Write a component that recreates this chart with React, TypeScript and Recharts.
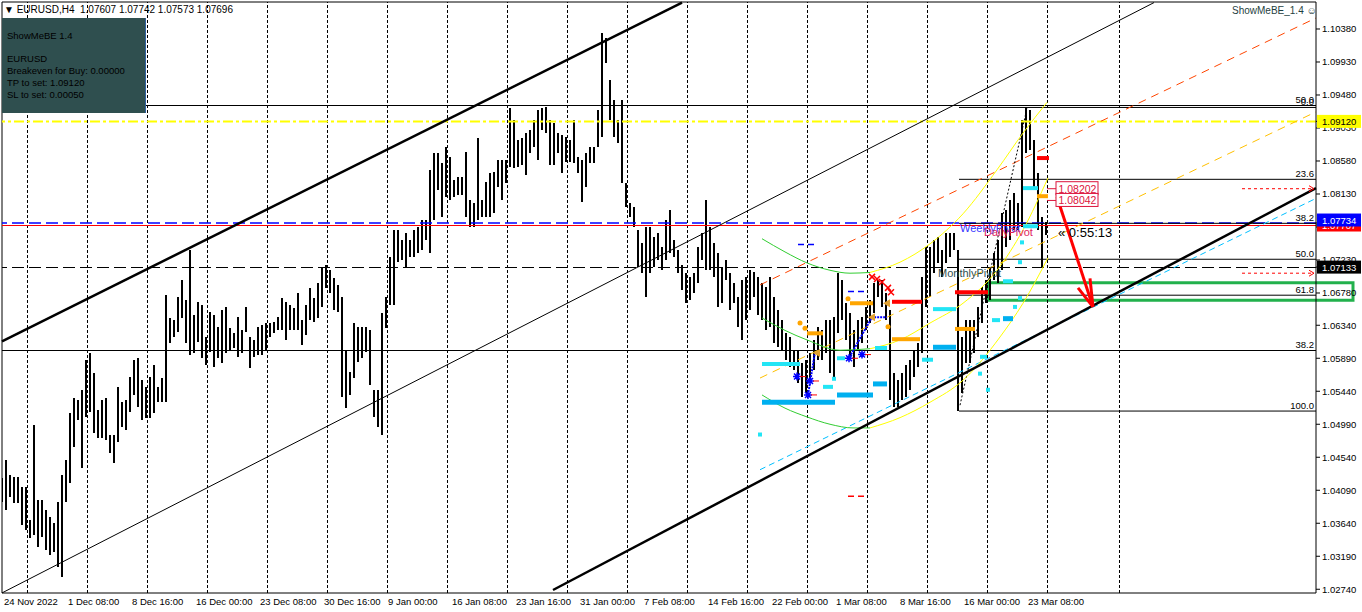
import React from "react"
import {
  ComposedChart, Bar, Line, XAxis, YAxis,
  ReferenceLine, ReferenceArea, ReferenceDot,
} from "recharts"

const FONT = '"Liberation Sans", Arial, sans-serif'
const W = 1362
const H = 612

// H4 bars, read in pairs (one entry = 2 bars): [high, low]
const priceHL: [number, number][] = [
  [1.0426, 1.0393], [1.0450, 1.0382], [1.0430, 1.0400], [1.0427, 1.0392], [1.0427, 1.0392],
  [1.0413, 1.0362], [1.0413, 1.0355], [1.0368, 1.0344], [1.0498, 1.0348], [1.0396, 1.0332],
  [1.0396, 1.0345], [1.0382, 1.0328], [1.0372, 1.0321], [1.0364, 1.0325], [1.0393, 1.0304],
  [1.0430, 1.0291], [1.0450, 1.0393], [1.0514, 1.0419], [1.0535, 1.0468], [1.0532, 1.0505],
  [1.0546, 1.0439], [1.0587, 1.0509], [1.0596, 1.0516], [1.0569, 1.0487], [1.0518, 1.0480],
  [1.0532, 1.0480], [1.0535, 1.0478], [1.0484, 1.0460], [1.0484, 1.0446], [1.0550, 1.0475],
  [1.0529, 1.0495], [1.0532, 1.0491], [1.0563, 1.0516], [1.0587, 1.0539], [1.0589, 1.0523],
  [1.0559, 1.0505], [1.0550, 1.0508], [1.0563, 1.0508], [1.0580, 1.0514], [1.0550, 1.0529],
  [1.0562, 1.0529], [1.0675, 1.0529], [1.0644, 1.0610], [1.0641, 1.0618], [1.0673, 1.0625],
  [1.0696, 1.0644], [1.0668, 1.0610], [1.0737, 1.0593], [1.0648, 1.0596], [1.0666, 1.0611],
  [1.0662, 1.0589], [1.0618, 1.0580], [1.0652, 1.0598], [1.0648, 1.0577], [1.0632, 1.0589],
  [1.0655, 1.0583], [1.0659, 1.0596], [1.0630, 1.0600], [1.0623, 1.0603], [1.0645, 1.0591],
  [1.0628, 1.0596], [1.0659, 1.0625], [1.0618, 1.0576], [1.0614, 1.0591], [1.0632, 1.0593],
  [1.0634, 1.0593], [1.0637, 1.0600], [1.0637, 1.0618], [1.0638, 1.0623], [1.0645, 1.0628],
  [1.0671, 1.0628], [1.0666, 1.0614], [1.0662, 1.0628], [1.0658, 1.0628], [1.0678, 1.0628],
  [1.0641, 1.0607], [1.0662, 1.0621], [1.0685, 1.0641], [1.0671, 1.0638], [1.0692, 1.0644],
  [1.0713, 1.0659], [1.0716, 1.0685], [1.0709, 1.0678], [1.0698, 1.0655], [1.0689, 1.0652],
  [1.0673, 1.0536], [1.0600, 1.0521], [1.0570, 1.0539], [1.0637, 1.0562], [1.0632, 1.0584],
  [1.0632, 1.0589], [1.0632, 1.0598], [1.0628, 1.0553], [1.0546, 1.0509], [1.0546, 1.0495],
  [1.0651, 1.0484], [1.0673, 1.0630], [1.0727, 1.0662], [1.0764, 1.0662], [1.0764, 1.0720],
  [1.0750, 1.0723], [1.0760, 1.0713], [1.0750, 1.0727], [1.0764, 1.0727], [1.0768, 1.0733],
  [1.0778, 1.0737], [1.0778, 1.0750], [1.0846, 1.0733], [1.0869, 1.0778], [1.0869, 1.0818],
  [1.0855, 1.0782], [1.0877, 1.0809], [1.0863, 1.0805], [1.0832, 1.0809], [1.0836, 1.0812],
  [1.0836, 1.0812], [1.0870, 1.0782], [1.0805, 1.0768], [1.0801, 1.0768], [1.0889, 1.0778],
  [1.0805, 1.0782], [1.0829, 1.0782], [1.0842, 1.0782], [1.0843, 1.0787], [1.0859, 1.0823],
  [1.0859, 1.0805], [1.0859, 1.0828], [1.0930, 1.0850], [1.0914, 1.0848], [1.0887, 1.0850],
  [1.0889, 1.0853], [1.0896, 1.0839], [1.0900, 1.0869], [1.0914, 1.0877], [1.0928, 1.0859],
  [1.0930, 1.0900], [1.0932, 1.0896], [1.0914, 1.0853], [1.0910, 1.0853], [1.0896, 1.0869],
  [1.0893, 1.0842], [1.0891, 1.0857], [1.0887, 1.0857], [1.0914, 1.0855], [1.0863, 1.0842],
  [1.0859, 1.0802], [1.0869, 1.0823], [1.0877, 1.0855], [1.0877, 1.0855], [1.0928, 1.0877],
  [1.1033, 1.0891], [1.1026, 1.0992], [1.0968, 1.0914], [1.0941, 1.0891], [1.0914, 1.0883],
  [1.0941, 1.0828], [1.0828, 1.0795], [1.0801, 1.0782], [1.0795, 1.0768], [1.0764, 1.0713],
  [1.0746, 1.0705], [1.0768, 1.0673], [1.0768, 1.0705], [1.0754, 1.0713], [1.0760, 1.0723],
  [1.0741, 1.0709], [1.0778, 1.0723], [1.0791, 1.0733], [1.0750, 1.0727], [1.0737, 1.0705],
  [1.0716, 1.0682], [1.0705, 1.0664], [1.0700, 1.0668], [1.0705, 1.0678], [1.0741, 1.0692],
  [1.0760, 1.0723], [1.0805, 1.0709], [1.0768, 1.0709], [1.0746, 1.0700], [1.0733, 1.0659],
  [1.0713, 1.0664], [1.0723, 1.0696], [1.0705, 1.0655], [1.0692, 1.0664], [1.0673, 1.0632],
  [1.0696, 1.0614], [1.0700, 1.0641], [1.0709, 1.0655], [1.0707, 1.0673], [1.0700, 1.0648],
  [1.0692, 1.0641], [1.0686, 1.0628], [1.0700, 1.0632], [1.0673, 1.0610], [1.0655, 1.0604],
  [1.0641, 1.0600], [1.0623, 1.0587], [1.0618, 1.0577], [1.0600, 1.0573], [1.0600, 1.0555],
  [1.0583, 1.0536], [1.0587, 1.0542], [1.0596, 1.0559], [1.0614, 1.0573], [1.0632, 1.0587],
  [1.0628, 1.0587], [1.0641, 1.0596], [1.0641, 1.0569], [1.0645, 1.0563], [1.0705, 1.0623],
  [1.0696, 1.0641], [1.0664, 1.0614], [1.0651, 1.0587], [1.0628, 1.0577], [1.0641, 1.0600],
  [1.0645, 1.0610], [1.0659, 1.0628], [1.0668, 1.0637], [1.0692, 1.0651], [1.0696, 1.0673],
  [1.0696, 1.0659], [1.0678, 1.0641], [1.0655, 1.0532], [1.0569, 1.0523], [1.0559, 1.0523],
  [1.0569, 1.0532], [1.0580, 1.0536], [1.0587, 1.0546], [1.0600, 1.0563], [1.0610, 1.0577],
  [1.0700, 1.0596], [1.0741, 1.0659], [1.0741, 1.0673], [1.0750, 1.0705], [1.0754, 1.0719],
  [1.0737, 1.0700], [1.0760, 1.0719], [1.0760, 1.0727], [1.0760, 1.0737], [1.0737, 1.0517],
  [1.0618, 1.0542], [1.0641, 1.0583], [1.0641, 1.0583], [1.0641, 1.0596], [1.0659, 1.0618],
  [1.0686, 1.0637], [1.0696, 1.0664], [1.0713, 1.0668], [1.0733, 1.0696], [1.0750, 1.0692],
  [1.0787, 1.0709], [1.0791, 1.0741], [1.0805, 1.0750], [1.0814, 1.0764], [1.0801, 1.0764],
  [1.0914, 1.0768], [1.0932, 1.0869], [1.0928, 1.0873], [1.0887, 1.0823], [1.0842, 1.0764],
  [1.0782, 1.0713], [1.07742, 1.07573],
]

// right price scale
const priceTicks = [1.1038, 1.0993, 1.0948, 1.0903, 1.0858, 1.0813, 1.0768, 1.0723, 1.0678,
  1.0634, 1.0589, 1.0544, 1.0499, 1.0454, 1.0409, 1.0364, 1.0319, 1.0274]
const tpPrice = 1.0912
const dailyPivot = 1.07707
const weeklyPivot = 1.07734
const monthlyPivot = 1.07133

// time scale (bar index, 1 bar = 4h)
const dateBars = [1, 33, 65, 97, 129, 161, 193, 225, 257, 289, 321, 353, 385, 417, 449, 481, 513]
const dateLabels = ["24 Nov 2022", "1 Dec 08:00", "8 Dec 16:00", "16 Dec 00:00", "23 Dec 08:00",
  "30 Dec 16:00", "9 Jan 00:00", "16 Jan 08:00", "23 Jan 16:00", "31 Jan 00:00", "7 Feb 08:00",
  "14 Feb 16:00", "22 Feb 00:00", "1 Mar 08:00", "8 Mar 16:00", "16 Mar 00:00", "23 Mar 08:00"]
const gridBars = [13.5, 43.5, 73.5, 103.5, 133.5, 163.5, 193.5, 223.5, 253.5, 283.5, 313.5,
  343.5, 373.5, 403.5, 433.5, 463.5, 493.5, 523.5, 559.5]

// trend lines [bar, price] -> [bar, price]
const chanUpper: [number, number][] = [[1, 1.0612], [341, 1.1074]]
const chanLower: [number, number][] = [[1, 1.0269], [577, 1.1074]]
const supportLine: [number, number][] = [[276.5, 1.0273], [658, 1.0821]]
const skyTrend: [number, number][] = [[380, 1.0437], [658, 1.0807]]
const redTrend: [number, number][] = [[380, 1.0689], [658, 1.1053]]
const goldTrend: [number, number][] = [[380, 1.0562], [658, 1.0925]]
const fibDiag: [number, number][] = [[480, 1.0525], [513.5, 1.0930]]

// fibo retracement (from bar 479.5)
const fibPrices = [1.0931, 1.0833, 1.0773, 1.0724, 1.0675, 1.0517]
const fibLabels = [
  { t: "50.0", p: 1.0934 }, { t: "0.0", p: 1.0931 }, { t: "23.6", p: 1.0833 }, { t: "38.2", p: 1.0773 },
  { t: "50.0", p: 1.0724 }, { t: "61.8", p: 1.0675 }, { t: "38.2", p: 1.0600 }, { t: "100.0", p: 1.0517 },
]
const fullLevels = [1.0934, 1.0600]

// indicator segments [fromBar, toBar, price]
const aquaSegs = [[381, 400, 1.0581], [411.5, 416.5, 1.0550], [418.5, 422.5, 1.0589], [437.5, 443.5, 1.0603],
  [461, 466.5, 1.0587], [466.5, 478, 1.0656], [490, 493.5, 1.0591], [496, 500, 1.0641],
  [501.5, 506.5, 1.0694], [511.5, 519, 1.0821], [511.5, 519, 1.0769]]
const skySegs = [[381, 417.5, 1.0529], [418.5, 436.5, 1.0539], [436.5, 443.5, 1.0554], [466.5, 478, 1.0604], [501.5, 506.5, 1.0643]]
const orangeSegs = [[403.5, 411.5, 1.0623], [425, 436.5, 1.0664], [446, 460, 1.0615], [477.5, 487.5, 1.0629], [518.5, 524, 1.0810]]
const redSegs = [[446, 461, 1.0666], [477.5, 494, 1.0679], [518.5, 524.5, 1.0862]]
const blueDashSegs = [[399, 408.5, 1.0744], [424, 433.5, 1.0680]]
const redDashSegs = [[424, 433.5, 1.0401]]
const orderLines = [1.08202, 1.0705]

const blueStars = [[398.5, 1.0564], [405, 1.0558], [404, 1.0539], [424.5, 1.0589], [431, 1.0594]]
const orangeTris = [[408.5, 1.0596], [436, 1.0645], [443.5, 1.0664]]
const orangeDots = [[400, 1.0637], [402.5, 1.0630], [424, 1.0670], [444, 1.0632]]
const redMarks = [[436, 1.0700], [438.5, 1.0697], [441, 1.0693], [444, 1.0685], [445.5, 1.0679]]
const aquaDots = [[380, 1.0485], [417, 1.0561], [494, 1.0546], [507.5, 1.0659], [510, 1.0720], [511, 1.0747], [510, 1.0671], [490, 1.0568]]
const blueZig1 = [[404, 1.0539], [407.5, 1.0597]]
const blueZig2 = [[424, 1.0587], [436, 1.0645], [443.5, 1.0645]]

// regression-like curves
const green1 = [[381, 1.0752], [392.5, 1.0734], [403.5, 1.0719], [415, 1.0709], [425, 1.0705], [435, 1.0706]]
const yellow1 = [[435, 1.0706], [450, 1.0720], [465, 1.0745], [481.5, 1.0786], [498.5, 1.0846], [511.5, 1.0896], [523.5, 1.0938]]
const green2 = [[381, 1.0644], [392.5, 1.0627], [403.5, 1.0614], [420, 1.0600], [435, 1.0602]]
const yellow2 = [[435, 1.0602], [450, 1.0614], [465, 1.0637], [481.5, 1.0664], [498.5, 1.0709], [511.5, 1.0764], [524, 1.0835]]
const green3 = [[381, 1.0539], [392.5, 1.0521], [403.5, 1.0509], [415, 1.0499], [426.5, 1.0494], [435, 1.0494]]
const yellow3 = [[435, 1.0494], [450, 1.0508], [465, 1.0529], [481.5, 1.0559], [500, 1.0618], [511.5, 1.0664], [524, 1.0726]]

// projected move
const arrowShaft: [number, number][] = [[528.5, 1.0809], [546.5, 1.0659]]
const arrowWings: [number, number][] = [[539, 1.0685], [545, 1.0698]]
const zoneBox = { x1: 494, x2: 676.5, top: 1.0692, bottom: 1.0668 }
const tagPrices = [1.08202, 1.08042]

const bars = priceHL.map(([h, l], i) => ({ x: 2 * i + 1, hl: [l, h] }))
const pts = (a: number[][]) => a.map(([x, p]) => ({ x, p }))

const DateTick = (props: any) => {
  const { x, y, payload } = props
  const i = dateBars.indexOf(payload.value)
  return (
    <text x={x + 2} y={y + 10} fontSize={9.5} fontFamily={FONT} fill="#000">{dateLabels[i]}</text>
  )
}

const markStyle: Record<string, [string, string]> = {
  [tpPrice]: ["#ffff00", "#000"],
  [dailyPivot]: ["#ff0000", "#fff"],
  [weeklyPivot]: ["#0000ff", "#fff"],
  [monthlyPivot]: ["#000000", "#fff"],
}

const PriceTick = (props: any) => {
  const { x, y, payload } = props
  const v = payload.value
  const st = markStyle[v]
  if (st) {
    const up = v === weeklyPivot ? 3 : 0
    return (
      <g>
        <rect x={x - 5} y={y - 6.5 - up} width={44} height={13} fill={st[0]} />
        <text x={x} y={y + 3.5 - up} fontSize={9.5} fontFamily={FONT} fill={st[1]}>{v.toFixed(5)}</text>
      </g>
    )
  }
  return <text x={x} y={y + 3.5} fontSize={9.5} fontFamily={FONT} fill="#000">{v.toFixed(5)}</text>
}

// one OHLC pair drawn as a crisp black stroke
const PriceBar = (p: any) => {
  const cx = Math.round(p.x + p.width / 2)
  return <rect x={cx - 1} y={p.y} width={2} height={Math.max(p.height, 1)} fill="#000" shapeRendering="crispEdges" />
}

const seg = (a: [number, number][], stroke: string, width: number, dash?: string, key?: string) => (
  <ReferenceLine key={key} segment={[{ x: a[0][0], y: a[0][1] }, { x: a[1][0], y: a[1][1] }]}
    stroke={stroke} strokeWidth={width} strokeDasharray={dash} ifOverflow="visible" />
)

const hSegs = (list: number[][], stroke: string, width: number, name: string, dash?: string) =>
  list.map(([a, b, p], i) =>
    seg([[a, p], [b, p]], stroke, width, dash, `${name}${i}`))

const curve = (d: number[][], stroke: string, key: string, width = 1, dash?: string, type: any = "monotone") => (
  <Line key={key} data={pts(d)} dataKey="p" type={type} stroke={stroke} strokeWidth={width}
    strokeDasharray={dash} dot={false} activeDot={false} isAnimationActive={false} />
)

const dots = (list: number[][], name: string, render: (cx: number, cy: number) => React.ReactElement) =>
  list.map(([x, p], i) => (
    <ReferenceDot key={`${name}${i}`} x={x} y={p} r={0} ifOverflow="visible"
      shape={(s: any) => render(s.cx, s.cy)} />
  ))

const label = (x: number, p: number, key: string, render: (cx: number, cy: number) => React.ReactElement) => (
  <ReferenceDot key={key} x={x} y={p} r={0} ifOverflow="visible" shape={(s: any) => render(s.cx, s.cy)} />
)

export default function App() {
  const txt = { position: "absolute" as const, whiteSpace: "pre" as const, fontFamily: FONT, fontSize: 9.5, lineHeight: "12px", color: "#000" }
  return (
    <div style={{ position: "absolute", left: 0, top: 0, width: W, height: H, background: "#fff", overflow: "hidden" }}>
      <ComposedChart width={W} height={H} data={bars} margin={{ top: 2, right: 0, bottom: 0, left: 2 }}>
        <XAxis dataKey="x" type="number" domain={[1, 658]} allowDataOverflow ticks={dateBars} interval={0}
          tickLine={false} tickSize={0} axisLine={{ stroke: "#000" }} height={19} tick={<DateTick />} />
        <YAxis orientation="right" type="number" domain={[1.02689, 1.10748]} allowDataOverflow
          ticks={[...priceTicks, tpPrice, dailyPivot, weeklyPivot, monthlyPivot]} interval={0} width={46}
          tickSize={4} tickMargin={2} tickLine={{ stroke: "#000" }} axisLine={{ stroke: "#000" }} tick={<PriceTick />} />

        {gridBars.map(b => (
          <ReferenceLine key={`g${b}`} x={b} stroke="#000" strokeDasharray="3 2" shapeRendering="crispEdges" ifOverflow="visible" />
        ))}
        <ReferenceLine x={1} stroke="#000" ifOverflow="visible" />
        <ReferenceLine y={1.10748} stroke="#000" ifOverflow="visible" />

        {fullLevels.map(p => <ReferenceLine key={`l${p}`} y={p} stroke="#000" shapeRendering="crispEdges" ifOverflow="visible" />)}
        <ReferenceLine y={tpPrice} stroke="#ffff00" strokeWidth={2} strokeDasharray="10 3 3 3" ifOverflow="visible" />
        <ReferenceLine y={monthlyPivot} stroke="#000" strokeDasharray="12 5" shapeRendering="crispEdges" ifOverflow="visible" />
        <ReferenceLine y={dailyPivot} stroke="#ff0000" shapeRendering="crispEdges" ifOverflow="visible" />
        <ReferenceLine y={weeklyPivot} stroke="#0000ff" strokeWidth={1.5} strokeDasharray="12 5" ifOverflow="visible" />
        {fibPrices.map((p, i) => seg([[479.5, p], [658, p]], "#000", 1, undefined, `f${i}`))}

        <Bar dataKey="hl" fill="#000" barSize={2} shape={<PriceBar />} isAnimationActive={false} />

        {seg(chanUpper, "#000", 2.5, undefined, "cu")}
        {seg(chanLower, "#000", 1, undefined, "cl")}
        {seg(skyTrend, "#00bfff", 1, "6 4", "st")}
        {seg(redTrend, "#ff4500", 1, "8 6", "rt")}
        {seg(goldTrend, "#ffc000", 1, "8 6", "gt")}
        {seg(fibDiag, "#000", 1, "2 2", "fd")}

        {curve(green1, "#32cd32", "g1")}
        {curve(green2, "#32cd32", "g2")}
        {curve(green3, "#32cd32", "g3")}
        {curve(yellow1, "#ffff00", "y1")}
        {curve(yellow2, "#ffff00", "y2")}
        {curve(yellow3, "#ffff00", "y3")}
        {curve(blueZig1, "#0000ff", "bz1", 2, "2 1", "linear")}
        {curve(blueZig2, "#0000ff", "bz2", 2, "2 1", "linear")}

        {seg(supportLine, "#000", 2.5, undefined, "sl")}

        {hSegs(skySegs, "#00b0f0", 5, "sk")}
        {hSegs(aquaSegs, "#22e5f5", 4, "aq")}
        {hSegs(orangeSegs, "#ffa500", 4, "or")}
        {hSegs(redSegs, "#ff0000", 4, "rd")}
        {hSegs(blueDashSegs, "#0000ff", 1.5, "bd", "6 4")}
        {hSegs(redDashSegs, "#ff0000", 1.5, "rdd", "6 4")}
        {orderLines.map((p, i) => seg([[621, p], [656, p]], "#ff0000", 1, "3 3", `ol${i}`))}
        {dots(orderLines.map(p => [657, p]), "oa", (cx, cy) => (
          <path d={`M${cx - 5},${cy - 3}L${cx},${cy}L${cx - 5},${cy + 3}`} stroke="#ff0000" fill="none" />
        ))}

        {dots(aquaDots, "ad", (cx, cy) => <rect x={cx - 2} y={cy - 2} width={4} height={4} fill="#22e5f5" />)}
        {dots(orangeDots, "od", (cx, cy) => <circle cx={cx} cy={cy} r={2.5} fill="#ffa500" />)}
        {dots(orangeTris, "ot", (cx, cy) => <path d={`M${cx - 4},${cy}L${cx + 3},${cy - 4}L${cx + 3},${cy + 4}Z`} fill="#e0a030" />)}
        {dots(redMarks, "rm", (cx, cy) => <path d={`M${cx - 3},${cy - 3}L${cx + 3},${cy + 3}M${cx - 3},${cy + 3}L${cx + 3},${cy - 3}`} stroke="#ff0000" strokeWidth={1.5} />)}
        {dots(blueStars, "bs", (cx, cy) => (
          <g>
            <path d={`M${cx - 4},${cy}L${cx + 4},${cy}M${cx},${cy - 4}L${cx},${cy + 4}M${cx - 3},${cy - 3}L${cx + 3},${cy + 3}M${cx - 3},${cy + 3}L${cx + 3},${cy - 3}`} stroke="#0000ff" strokeWidth={1.5} />
            <line x1={cx + 3} y1={cy} x2={cx + 9} y2={cy} stroke="#ff0000" />
          </g>
        ))}

        <ReferenceArea x1={zoneBox.x1} x2={zoneBox.x2} y1={zoneBox.bottom} y2={zoneBox.top}
          fill="none" fillOpacity={0} stroke="#22b14c" strokeWidth={3} ifOverflow="visible" />

        {seg(arrowShaft, "#ff0000", 3, undefined, "as")}
        {seg([arrowWings[0], arrowShaft[1]], "#ff0000", 3, undefined, "aw1")}
        {seg([arrowWings[1], arrowShaft[1]], "#ff0000", 3, undefined, "aw2")}

        {tagPrices.map((p, i) => seg([[523.5, p], [528, p]], "#dc143c", 1, undefined, `tl${i}`))}
        {tagPrices.map((p, i) => label(528, p, `tg${i}`, (cx, cy) => (
          <g>
            <rect x={cx} y={cy - 7} width={42} height={13} fill="#fff" stroke="#dc143c" />
            <text x={cx + 2.5} y={cy + 4} fontSize={10.5} fontFamily={FONT} fill="#dc143c">{p.toFixed(5)}</text>
          </g>
        )))}

        {fibLabels.map((f, i) => label(658, f.p, `fl${i}`, (cx, cy) => (
          <text x={cx - 2} y={cy - 2} textAnchor="end" fontSize={9.5} fontFamily={FONT} fill="#000">{f.t}</text>
        )))}

        {label(480, weeklyPivot, "wp", (cx, cy) => (
          <text x={cx} y={cy + 9} fontSize={11} fontFamily={FONT} fill="#3333ff">WeeklyPivot</text>
        ))}
        {label(492, dailyPivot, "dp", (cx, cy) => (
          <text x={cx} y={cy + 11} fontSize={11} fontFamily={FONT} fill="#e0245e">DailyPivot</text>
        ))}
        {label(469, monthlyPivot, "mp", (cx, cy) => (
          <text x={cx} y={cy + 10} fontSize={11} fontFamily={FONT} fill="#2f4f4f">MonthlyPivot</text>
        ))}
        {label(529, 1.07696, "tm", (cx, cy) => (
          <text x={cx} y={cy + 11} fontSize={13} fontFamily={FONT} fill="#000">« 0:55:13</text>
        ))}
      </ComposedChart>

      <div style={{ ...txt, left: 4, top: 4, fontSize: 10 }}>{"▼ EURUSD,H4  1.07607 1.07742 1.07573 1.07696"}</div>
      <div style={{ position: "absolute", left: 2, top: 18, width: 143, height: 95, background: "#2f4f4f", borderRight: "1px solid #3060a0" }}>
        <div style={{ ...txt, left: 5, top: 12 }}>ShowMeBE 1.4</div>
        <div style={{ ...txt, left: 5, top: 35 }}>EURUSD</div>
        <div style={{ ...txt, left: 5, top: 47 }}>Breakeven for Buy: 0.00000</div>
        <div style={{ ...txt, left: 5, top: 59 }}>TP to set: 1.09120</div>
        <div style={{ ...txt, left: 5, top: 71 }}>SL to set: 0.00050</div>
      </div>
      <div style={{ ...txt, left: 1232, top: 5, fontSize: 10, color: "#1f3f3f" }}>ShowMeBE_1.4 ☺</div>
    </div>
  )
}
